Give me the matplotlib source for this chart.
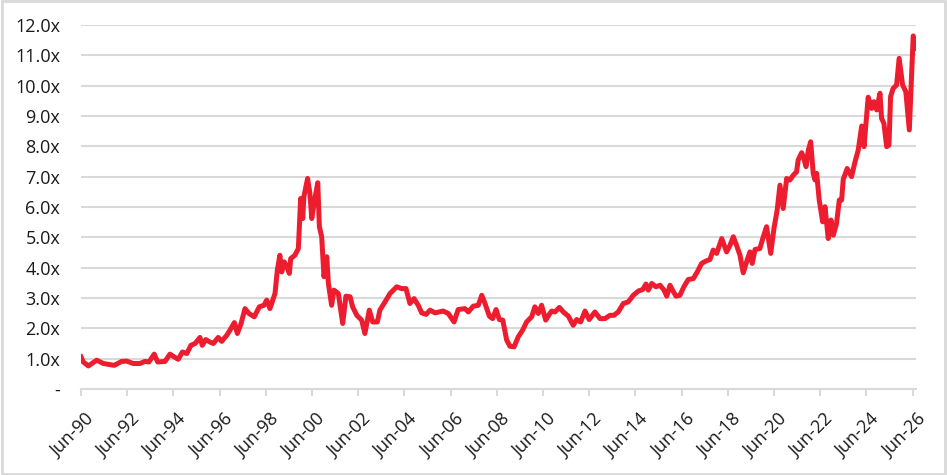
import matplotlib
matplotlib.use('Agg')
import matplotlib.pyplot as plt
import matplotlib.transforms as mtransforms
from matplotlib.patches import Rectangle

plt.rcParams['font.family'] = ['Open Sans', 'DejaVu Sans']

# time as decimal years, value as multiple
years = [
    1990.50, 1990.60, 1990.82, 1991.18, 1991.47, 1991.94, 1992.26, 1992.48, 1992.76, 1993.05,
    1993.27, 1993.44, 1993.67, 1993.82, 1994.14, 1994.35, 1994.57, 1994.71, 1994.89, 1995.08,
    1995.26, 1995.44, 1995.65, 1995.75, 1995.90, 1996.08, 1996.23, 1996.44, 1996.59, 1996.81,
    1996.95, 1997.14, 1997.27, 1997.43, 1997.60, 1997.77, 1998.00, 1998.22, 1998.42, 1998.54,
    1998.68, 1998.90, 1999.00, 1999.11, 1999.19, 1999.30, 1999.41, 1999.52, 1999.58, 1999.76,
    1999.91, 2000.01, 2000.10, 2000.15, 2000.31, 2000.41, 2000.49, 2000.59, 2000.75, 2000.82,
    2000.92, 2001.02, 2001.14, 2001.21, 2001.35, 2001.45, 2001.64, 2001.83, 2001.97, 2002.15,
    2002.26, 2002.44, 2002.65, 2002.79, 2002.98, 2003.13, 2003.33, 2003.44, 2003.66, 2003.88,
    2004.17, 2004.38, 2004.57, 2004.74, 2004.92, 2005.10, 2005.25, 2005.44, 2005.61, 2005.83,
    2006.01, 2006.18, 2006.40, 2006.65, 2006.83, 2007.12, 2007.27, 2007.48, 2007.70, 2007.85,
    2007.99, 2008.18, 2008.32, 2008.47, 2008.61, 2008.76, 2008.93, 2009.07, 2009.25, 2009.43,
    2009.62, 2009.79, 2010.01, 2010.15, 2010.30, 2010.44, 2010.62, 2010.80, 2010.88, 2011.02,
    2011.21, 2011.38, 2011.60, 2011.81, 2011.96, 2012.13, 2012.32, 2012.50, 2012.75, 2012.97,
    2013.18, 2013.40, 2013.57, 2013.76, 2013.98, 2014.19, 2014.41, 2014.63, 2014.82, 2014.96,
    2015.06, 2015.21, 2015.39, 2015.57, 2015.74, 2015.86, 2016.00, 2016.11, 2016.26, 2016.43,
    2016.60, 2016.79, 2017.01, 2017.18, 2017.37, 2017.56, 2017.73, 2017.87, 2018.02, 2018.24,
    2018.45, 2018.60, 2018.74, 2018.88, 2019.03, 2019.17, 2019.34, 2019.46, 2019.56, 2019.68,
    2019.89, 2020.04, 2020.18, 2020.36, 2020.50, 2020.64, 2020.76, 2020.90, 2021.05, 2021.19,
    2021.34, 2021.48, 2021.55, 2021.70, 2021.77, 2021.89, 2021.99, 2022.09, 2022.20, 2022.28,
    2022.35, 2022.46, 2022.61, 2022.71, 2022.85, 2022.97, 2023.07, 2023.21, 2023.33, 2023.43,
    2023.50, 2023.67, 2023.86, 2024.01, 2024.15, 2024.30, 2024.40, 2024.51, 2024.58, 2024.73,
    2024.83, 2024.95, 2025.09, 2025.16, 2025.26, 2025.38, 2025.48, 2025.55, 2025.66, 2025.81,
    2025.92, 2026.07, 2026.21, 2026.36, 2026.53, 2026.65,
]
multiple = [
    1.06, 0.89, 0.76, 0.95, 0.84, 0.78, 0.91, 0.92, 0.84, 0.84,
    0.91, 0.89, 1.15, 0.89, 0.91, 1.15, 1.04, 0.98, 1.22, 1.17,
    1.44, 1.50, 1.70, 1.44, 1.63, 1.55, 1.50, 1.70, 1.57, 1.77,
    1.94, 2.19, 1.83, 2.16, 2.65, 2.49, 2.38, 2.71, 2.76, 2.93,
    2.65, 3.15, 3.92, 4.41, 3.86, 4.19, 4.03, 3.81, 4.30, 4.41,
    4.63, 6.28, 5.62, 6.34, 6.94, 6.45, 5.62, 6.12, 6.80, 5.35,
    5.02, 3.70, 4.36, 3.48, 2.76, 3.26, 3.15, 2.16, 3.06, 3.04,
    2.71, 2.43, 2.27, 1.83, 2.60, 2.21, 2.21, 2.60, 2.87, 3.15,
    3.37, 3.31, 3.31, 2.82, 2.98, 2.76, 2.51, 2.46, 2.60, 2.51,
    2.54, 2.57, 2.49, 2.21, 2.62, 2.65, 2.54, 2.73, 2.76, 3.09,
    2.82, 2.40, 2.32, 2.62, 2.29, 2.27, 1.61, 1.41, 1.39, 1.72,
    1.94, 2.21, 2.38, 2.71, 2.49, 2.76, 2.27, 2.49, 2.57, 2.54,
    2.69, 2.54, 2.40, 2.10, 2.29, 2.21, 2.57, 2.29, 2.54, 2.32,
    2.32, 2.43, 2.43, 2.54, 2.82, 2.87, 3.09, 3.23, 3.28, 3.46,
    3.26, 3.48, 3.37, 3.42, 3.26, 3.06, 3.42, 3.26, 3.06, 3.09,
    3.37, 3.61, 3.64, 3.86, 4.14, 4.22, 4.27, 4.58, 4.47, 4.96,
    4.52, 4.74, 5.02, 4.74, 4.41, 3.83, 4.25, 4.52, 4.14, 4.60,
    4.63, 5.02, 5.35, 4.47, 5.29, 5.90, 6.72, 5.95, 6.94, 6.89,
    7.05, 7.16, 7.55, 7.79, 7.66, 7.33, 7.88, 8.15, 7.11, 6.89,
    7.11, 6.23, 5.51, 6.01, 4.96, 5.57, 5.07, 5.46, 6.23, 6.23,
    6.91, 7.27, 7.00, 7.49, 7.88, 8.67, 7.99, 8.98, 9.62, 9.25,
    9.47, 9.20, 9.75, 8.92, 8.76, 7.99, 8.04, 9.64, 9.91, 10.02,
    10.90, 10.02, 9.80, 8.54, 11.64, 11.23,
]

tick_years = list(range(1990, 2027, 2))
tick_labels = ['Jun-%02d' % (y % 100) for y in tick_years]
y_ticks = list(range(0, 13))
y_labels = ['-' if v == 0 else '%.1fx' % v for v in y_ticks]

fig = plt.figure(figsize=(9.47, 4.75), dpi=100)
ax = fig.add_axes([81 / 947, 1 - 389 / 475, (916 - 81) / 947, (389 - 25) / 475])

ax.plot(years, multiple, color='#ED1C2E', lw=3.6, solid_joinstyle='round', zorder=3)

ax.set_xlim(1990.5, 2026.65)
ax.set_ylim(0, 12)
ax.set_yticks(y_ticks)
ax.set_yticklabels(y_labels)
ax.set_xticks([y + 0.5 for y in tick_years])
ax.set_xticklabels(tick_labels, rotation=45, ha='right', rotation_mode='anchor')

ax.grid(axis='y', color='#d9d9d9', lw=1.5, zorder=0)
for s in ['top', 'right', 'left']:
    ax.spines[s].set_visible(False)
ax.spines['bottom'].set_color('#d9d9d9')
ax.spines['bottom'].set_linewidth(1.5)
ax.tick_params(axis='y', length=0, pad=15, labelsize=13, labelcolor='#1a1a1a')
ax.tick_params(axis='x', length=5, width=1.5, color='#d9d9d9', pad=10,
               labelsize=13, labelcolor='#1a1a1a')

# nudge the rotated labels a little to the right, like the reference
shift = mtransforms.ScaledTranslation(4 / 100, 0, fig.dpi_scale_trans)
for lab in ax.get_xticklabels():
    lab.set_transform(lab.get_transform() + shift)

fig.patches.append(Rectangle((0.002, 0.003), 0.996, 0.994, transform=fig.transFigure,
                             fill=False, edgecolor='#d9d9d9', lw=2))

plt.savefig('out.png', dpi=100)
